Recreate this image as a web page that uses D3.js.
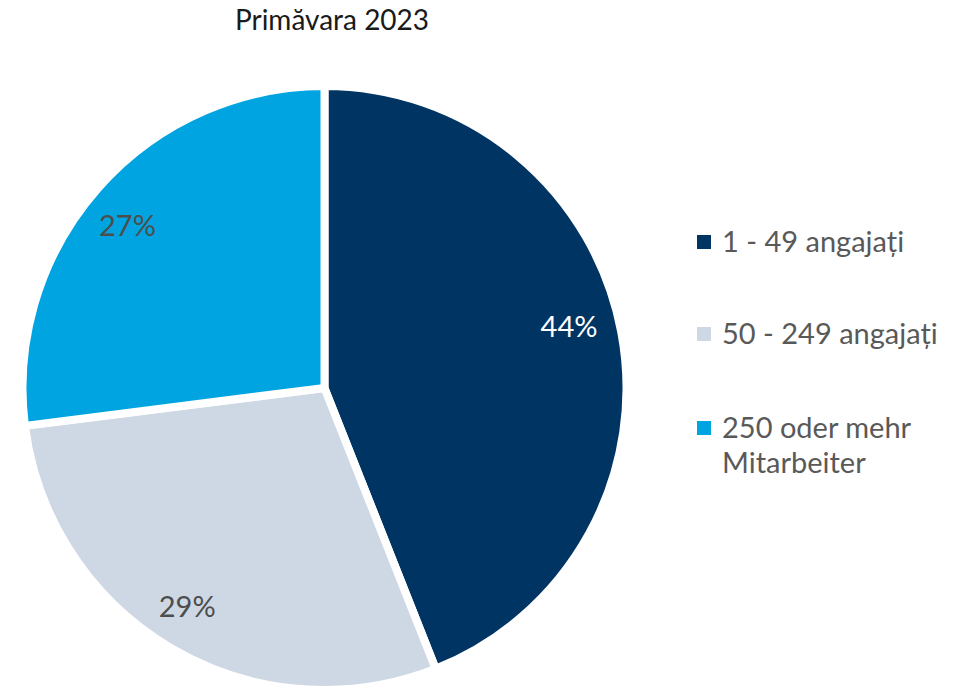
<!DOCTYPE html>
<html><head><meta charset="utf-8">
<script src="https://cdn.jsdelivr.net/npm/d3@7"></script>
<style>body{margin:0;background:#fff;} svg{display:block;}</style>
</head><body>
<svg id="chart" width="956" height="689"></svg>
<script>
const title = "Primăvara 2023";
const categories = ["1 - 49 angajați", "50 - 249 angajați", "250 oder mehr Mitarbeiter"];
const legendLines = [["1 - 49 angajați"], ["50 - 249 angajați"], ["250 oder mehr", "Mitarbeiter"]];
const values = [44, 29, 27];
const colors = ["#003463", "#cdd8e4", "#00a4e0"];
const labelColors = ["#ffffff", "#4d4d4d", "#4d4d4d"];

// layout: small label nudges (pixels) to mimic the original label placement
const labelNudge = [[-3, -14], [-9, 2], [-8, 4]];

const svg = d3.select("#chart");
const cx = 324.5, cy = 388, R = 302;
const font = "Lato, 'Noto Sans', sans-serif";

svg.append("text").attr("x", 332).attr("y", 30).attr("text-anchor", "middle")
  .attr("font-family", "Lato, 'Open Sans', sans-serif").attr("font-size", 28)
  .attr("fill", "#1a1a1a").text(title);

const pie = d3.pie().sort(null).value(d => d)(values);
const arc = d3.arc().innerRadius(0).outerRadius(R);
const labelArc = d3.arc().innerRadius(252).outerRadius(252);

const g = svg.append("g").attr("transform", `translate(${cx},${cy})`);
g.selectAll("path").data(pie).join("path")
  .attr("d", arc).attr("fill", (d, i) => colors[i])
  .attr("stroke", "#fff").attr("stroke-width", 8).attr("stroke-linejoin", "miter");

g.selectAll("text.lbl").data(pie).join("text").attr("class", "lbl")
  .attr("transform", (d, i) => {
    const [x, y] = labelArc.centroid(d);
    return `translate(${x + labelNudge[i][0]},${y + labelNudge[i][1]})`;
  })
  .attr("text-anchor", "middle").attr("dy", "0.36em")
  .attr("font-family", font).attr("font-size", 29)
  .attr("fill", (d, i) => labelColors[i])
  .text(d => d.value + "%");

const legY = [252, 344, 438];
const leg = svg.append("g");
categories.forEach((c, i) => {
  leg.append("rect").attr("x", 697).attr("y", legY[i] - 17).attr("width", 14).attr("height", 14)
    .attr("fill", colors[i]);
  const t = leg.append("text").attr("x", 722).attr("y", legY[i])
    .attr("font-family", font).attr("font-size", 29).attr("fill", "#595959");
  legendLines[i].forEach((l, j) => {
    t.append("tspan").attr("x", 722).attr("y", legY[i] + j * 35).text(l);
  });
});
</script>
</body></html>
